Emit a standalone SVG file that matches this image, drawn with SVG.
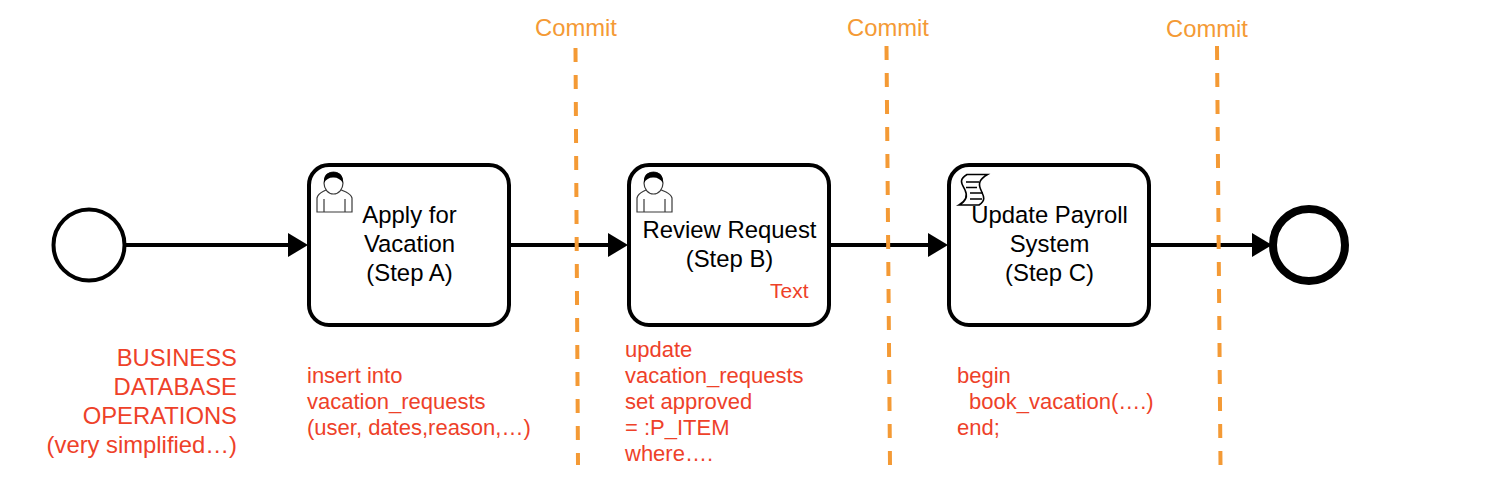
<svg xmlns="http://www.w3.org/2000/svg" width="1500" height="502" viewBox="0 0 1500 502">
<defs>
<style>
text{font-family:"Liberation Sans",Arial,sans-serif}
.task{fill:#fff;stroke:#000;stroke-width:4}
.flow{stroke:#000;stroke-width:4;fill:none;marker-end:url(#arrow)}
.commit{stroke:#f49a35;stroke-width:4;stroke-dasharray:14 13;fill:none}
.ct{font-size:23.8px;fill:#f49a35;text-anchor:middle}
.lb{font-size:23.9px;fill:#000;text-anchor:middle}
.red{fill:#ee4129}
.big{font-size:23.8px;text-anchor:end}
.sm{font-size:22px}
.ic{fill:#fff;stroke:#3a3a3a;stroke-width:1.2}
.sc{fill:#fff;stroke:#000;stroke-width:1.6}
</style>
<marker id="arrow" markerUnits="userSpaceOnUse" markerWidth="22" markerHeight="24" refX="2" refY="12" orient="auto" overflow="visible"><path d="M0 0L20 12L0 24Z" fill="#000"/></marker>
<g id="user-icon">
<path class="ic" d="M317 212V198Q318 194 323 191.5L327 189.5Q333 194 340 189.5L346 192Q351 194.500 352 198V212Z"/>
<path class="ic" d="M324 212V199M345 212V199"/>
<ellipse class="ic" cx="333.500" cy="183" rx="9.500" ry="11"/>
<path fill="#000" d="M324 183Q323 172 333.500 172Q343.500 172 343 183Q339 177 333 177.500Q327 177.500 324 183Z"/>
</g>
</defs>
<g id="connectors">
<line class="flow" x1="126" y1="245" x2="290" y2="245"/>
<line class="flow" x1="510" y1="245" x2="610" y2="245"/>
<line class="flow" x1="830" y1="245" x2="930" y2="245"/>
<line class="flow" x1="1150" y1="245" x2="1254" y2="245"/>
</g>
<g id="start"><circle cx="89" cy="245" r="35.500" fill="#fff" stroke="#000" stroke-width="4"/></g>
<g id="end"><circle cx="1309" cy="245" r="36" fill="#fff" stroke="#000" stroke-width="8"/></g>
<g id="step-a">
<rect class="task" x="309" y="165" width="200" height="160" rx="20"/>
<use href="#user-icon"/>
<text class="lb" x="409.500" y="223">Apply for</text>
<text class="lb" x="409.500" y="252">Vacation</text>
<text class="lb" x="409.500" y="281">(Step A)</text>
</g>
<g id="step-b">
<rect class="task" x="629" y="165" width="200" height="160" rx="20"/>
<use href="#user-icon" x="320"/>
<text class="lb" x="729.500" y="238">Review Request</text>
<text class="lb" x="729.500" y="267">(Step B)</text>
<text class="red" x="770" y="298" font-size="21">Text</text>
</g>
<g id="step-c">
<rect class="task" x="949" y="165" width="200" height="160" rx="20"/>
<path class="sc" d="M967 174.500H987.500C980 179 978 183 980.500 189C983 195 987 200 979 205H959C966 201 968 196 965 190C962 184 958 180 967 174.500Z"/>
<path class="sc" d="M966 182H979M966 187.500H977M970 193H983M970 199H982"/>
<text class="lb" x="1049.500" y="223">Update Payroll</text>
<text class="lb" x="1049.500" y="252">System</text>
<text class="lb" x="1049.500" y="281">(Step C)</text>
</g>
<g id="commit-lines">
<line class="commit" x1="575.500" y1="48" x2="578" y2="465"/>
<line class="commit" x1="886.500" y1="46" x2="890" y2="465"/>
<line class="commit" x1="1217" y1="46" x2="1220.500" y2="465"/>
</g>
<g id="commit-labels">
<text class="ct" x="576" y="36">Commit</text>
<text class="ct" x="888" y="36">Commit</text>
<text class="ct" x="1207" y="37">Commit</text>
</g>
<g id="notes" class="red">
<text class="big" x="237" y="366">BUSINESS</text>
<text class="big" x="237" y="395">DATABASE</text>
<text class="big" x="237" y="424">OPERATIONS</text>
<text class="big" x="237" y="453">(very simplified…)</text>
<text class="sm" x="307" y="383">insert into</text>
<text class="sm" x="307" y="409">vacation_requests</text>
<text class="sm" x="307" y="435">(user, dates,reason,…)</text>
<text class="sm" x="625" y="357">update</text>
<text class="sm" x="625" y="383">vacation_requests</text>
<text class="sm" x="625" y="409">set approved</text>
<text class="sm" x="625" y="435">= :P_ITEM</text>
<text class="sm" x="625" y="461">where….</text>
<text class="sm" x="957" y="383">begin</text>
<text class="sm" x="969" y="409">book_vacation(….)</text>
<text class="sm" x="957" y="435">end;</text>
</g>
</svg>
